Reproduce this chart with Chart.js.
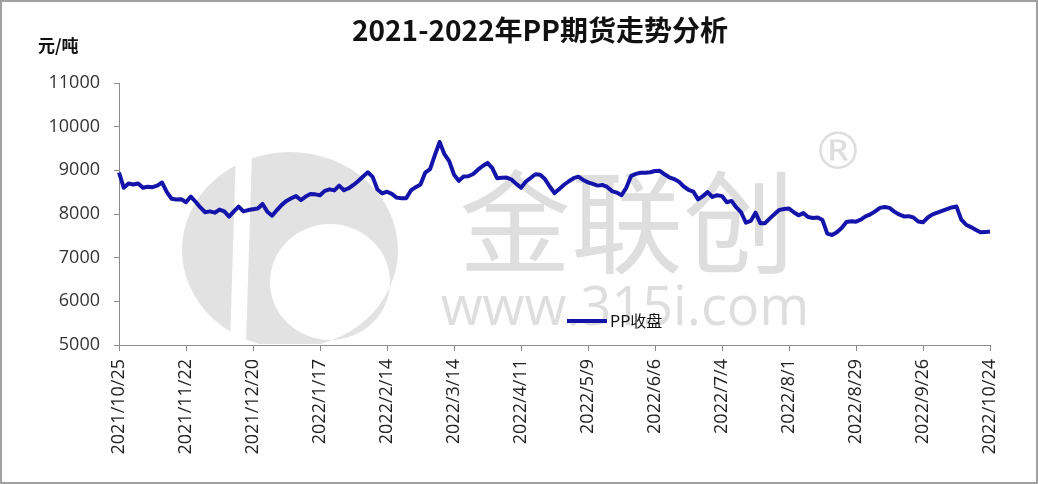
<!DOCTYPE html>
<html>
<head>
<meta charset="utf-8">
<script src="https://cdn.jsdelivr.net/npm/chart.js@4.4.1/dist/chart.umd.min.js"></script>
<style>
  html, body { margin: 0; padding: 0; background: #fff; }
  #wrap { width: 1038px; height: 484px; position: relative; }
</style>
</head>
<body>
<div id="wrap"><canvas id="ppChart" width="1038" height="484"></canvas></div>
<script>
// PP futures close, one reading every 2 calendar days from 2021/10/25 to 2022/10/24
const startDate = new Date(2021, 9, 25);
const stepDays = 2;
const tickLabels = ['2021/10/25', '2021/11/22', '2021/12/20', '2022/1/17', '2022/2/14', '2022/3/14',
  '2022/4/11', '2022/5/9', '2022/6/6', '2022/7/4', '2022/8/1', '2022/8/29', '2022/9/26', '2022/10/24'];
const closePrices = [
  8950, 8600, 8700, 8675, 8700, 8600, 8625, 8615, 8650, 8720,
  8500, 8350, 8330, 8340, 8270, 8400, 8280, 8150, 8040, 8060,
  8030, 8100, 8060, 7940, 8060, 8170, 8060, 8090, 8110, 8125,
  8230, 8050, 7960, 8090, 8210, 8300, 8360, 8410, 8320, 8400,
  8460, 8450, 8430, 8530, 8565, 8540, 8650, 8545, 8590, 8665,
  8755, 8860, 8955, 8850, 8560, 8470, 8510, 8460, 8375, 8360,
  8360, 8540, 8615, 8675, 8950, 9030, 9350, 9650, 9370, 9210,
  8900, 8760, 8860, 8865, 8915, 9015, 9100, 9170, 9050, 8820,
  8830, 8835, 8790, 8690, 8600, 8740, 8825, 8910, 8900, 8800,
  8630, 8480, 8575, 8670, 8750, 8820, 8855, 8780, 8725, 8690,
  8650, 8665, 8620, 8525, 8490, 8430, 8600, 8870, 8920, 8945,
  8946, 8955, 8985, 8990, 8910, 8840, 8800, 8740, 8630, 8555,
  8515, 8335, 8410, 8500, 8390, 8430, 8410, 8270, 8300, 8150,
  8035, 7800, 7840, 8030, 7790, 7790, 7900, 8000, 8095, 8115,
  8127, 8040, 7970, 8020, 7930, 7910, 7920, 7860, 7550, 7520,
  7580, 7680, 7815, 7835, 7825, 7870, 7945, 7990, 8060, 8140,
  8160, 8140, 8055, 7990, 7945, 7950, 7920, 7830, 7810, 7920,
  7990, 8030, 8070, 8110, 8150, 8170, 7870, 7755, 7700, 7640,
  7580, 7585, 7600
];
const yTicks = [5000, 6000, 7000, 8000, 9000, 10000, 11000];
const seriesName = 'PP收盘';
const titleText = '2021-2022年PP期货走势分析';
const unitText = '元/吨';

function fmtDate(d) {
  return d.getFullYear() + '/' + (d.getMonth() + 1) + '/' + d.getDate();
}
const dates = closePrices.map((_, i) => {
  const d = new Date(startDate);
  d.setDate(d.getDate() + i * stepDays);
  return fmtDate(d);
});
const tickEvery = 28 / stepDays;

const lineColor = '#1414aa';
const axisColor = '#8c8c8c';

const decorPlugin = {
  id: 'decor',
  beforeDatasetsDraw(chart) {
    const c = chart.ctx;
    const a = chart.chartArea;
    c.save();
    c.beginPath();
    c.rect(a.left + 1, a.top, a.right - a.left, a.bottom - a.top - 1);
    c.clip();
    // watermark logo (rough), kept inside the plot area
    c.fillStyle = '#e2e2e2';
    c.beginPath();
    c.ellipse(290, 250, 108, 98, 0, 0, Math.PI * 2);
    c.ellipse(330, 282, 60, 58, 0, 0, Math.PI * 2, true);
    c.fill('evenodd');
    c.fillStyle = '#fff';
    c.beginPath();
    c.moveTo(236, 150);
    c.lineTo(252, 150);
    c.lineTo(246, 345);
    c.lineTo(230, 345);
    c.closePath();
    c.fill();
    c.fillStyle = '#dedede';
    c.font = '112px "Noto Sans CJK SC"';
    c.textAlign = 'center';
    c.textBaseline = 'middle';
    c.fillText('金联创', 627, 222);
    c.font = '54px "Open Sans"';
    c.fillText('www.315i.com', 625, 310);
    c.font = '52px "DejaVu Sans"';
    c.fillText('®', 838, 155);
    c.restore();
  },
  afterDraw(chart) {
    const c = chart.ctx;
    c.save();
    c.fillStyle = '#111';
    c.textAlign = 'center';
    c.textBaseline = 'middle';
    c.font = 'bold 28px "Noto Sans CJK SC"';
    c.fillText(titleText, 540, 30);
    c.textAlign = 'left';
    c.font = 'bold 17px "Noto Sans CJK SC"';
    c.fillText(unitText, 38, 46);
    // legend
    const ly = 321;
    c.strokeStyle = lineColor;
    c.lineWidth = 4;
    c.beginPath();
    c.moveTo(567, ly);
    c.lineTo(607, ly);
    c.stroke();
    c.fillStyle = '#111';
    c.font = '16px "Noto Sans CJK SC"';
    c.fillText(seriesName, 610, ly);
    // frame
    c.strokeStyle = '#a0a0a0';
    c.lineWidth = 2;
    c.strokeRect(1, 1, chart.width - 2, chart.height - 2);
    c.restore();
  }
};

new Chart(document.getElementById('ppChart'), {
  type: 'line',
  data: {
    labels: dates,
    datasets: [{
      label: seriesName,
      data: closePrices,
      borderColor: lineColor,
      borderWidth: 4,
      borderJoinStyle: 'round',
      pointRadius: 0,
      tension: 0,
      fill: false
    }]
  },
  options: {
    responsive: false,
    animation: false,
    layout: { padding: { top: 83, right: 48, left: 0, bottom: 0 } },
    plugins: {
      legend: { display: false },
      title: { display: false },
      tooltip: { enabled: false }
    },
    scales: {
      x: {
        offset: false,
        afterFit(scale) { scale.height = 139; },
        border: { display: true, color: axisColor, width: 1 },
        grid: { display: true, drawOnChartArea: false, drawTicks: true, tickLength: 6, color: axisColor },
        ticks: {
          autoSkip: false,
          minRotation: 90,
          maxRotation: 90,
          padding: 8,
          color: '#222',
          font: { family: '"Open Sans"', size: 18 },
          callback(value, index) {
            return index % tickEvery === 0 ? tickLabels[index / tickEvery] : null;
          }
        }
      },
      y: {
        min: yTicks[0],
        max: yTicks[yTicks.length - 1],
        afterFit(scale) { scale.width = 119; },
        afterBuildTicks(scale) { scale.ticks = yTicks.map(v => ({ value: v })); },
        border: { display: true, color: axisColor, width: 1 },
        grid: { display: true, drawOnChartArea: false, drawTicks: true, tickLength: 5, color: axisColor },
        ticks: {
          padding: 14,
          color: '#333',
          font: { family: '"Open Sans"', size: 18 },
          callback(value) { return String(value); }
        }
      }
    }
  },
  plugins: [decorPlugin]
});
</script>
</body>
</html>
